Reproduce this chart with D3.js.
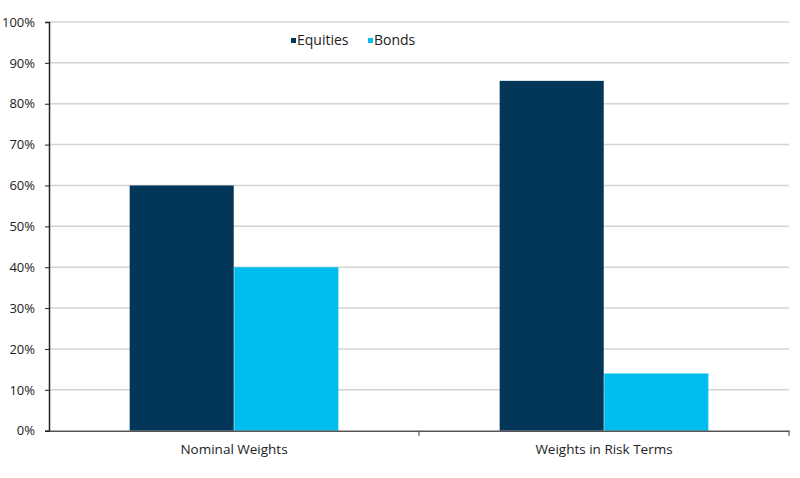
<!DOCTYPE html>
<html><head><meta charset="utf-8">
<script src="https://cdn.jsdelivr.net/npm/d3@7"></script>
<style>body{margin:0;background:#fff}svg{display:block}text{font-family:"Open Sans","Noto Sans",sans-serif;fill:#222}</style>
</head><body><svg id="c" width="800" height="478"></svg>
<script>
const categories = ["Nominal Weights", "Weights in Risk Terms"];
const seriesNames = ["Equities", "Bonds"];
const equities = [60, 85.6];
const bonds = [40, 14];
const yTicks = [0,10,20,30,40,50,60,70,80,90,100];
const colors = ["#03375a", "#00bdf0"];

const svg = d3.select("#c");
const m = {l:49, r:11, t:22, b:47};
const W = 800, H = 478;
const x = d3.scaleBand().domain(categories).range([m.l, W - m.r]).paddingInner(0).paddingOuter(0);
const bw = x.bandwidth();
const x1 = d3.scaleBand().domain(seriesNames).range([bw*0.218, bw*0.782]).paddingInner(0.005);
const y = d3.scaleLinear().domain([0,100]).range([H - m.b - 0.3, m.t]);

// gridlines
svg.append("g").selectAll("line").data(yTicks.filter(d=>d>0)).join("line")
  .attr("x1", m.l).attr("x2", W - m.r).attr("y1", d=>y(d)).attr("y2", d=>y(d))
  .attr("stroke", "#d4d4d4").attr("stroke-width", 1.5);

const data = categories.map((c,i)=>({c, vals:[{s:"Equities", v:equities[i]},{s:"Bonds", v:bonds[i]}]}));
svg.append("g").selectAll("g").data(data).join("g")
  .attr("transform", d=>`translate(${x(d.c)},0)`)
  .selectAll("rect").data(d=>d.vals).join("rect")
  .attr("x", d=>x1(d.s)).attr("width", x1.bandwidth())
  .attr("y", d=>y(d.v)).attr("height", d=>y(0)-y(d.v))
  .attr("fill", (d,i)=>colors[i]);

// y axis
const ya = svg.append("g").attr("transform", `translate(${m.l},0)`)
  .call(d3.axisLeft(y).tickValues(yTicks).tickFormat(d=>d+"%").tickSizeOuter(0).tickSize(4).tickPadding(10));
ya.select(".domain").attr("stroke", "#222").attr("stroke-width", 1.5);
ya.selectAll(".tick line").attr("stroke", "#222");
ya.selectAll("text").attr("font-size", 13).style("fill", "#222");

// x axis
const xa = svg.append("g").attr("transform", `translate(0,${y(0)})`)
  .call(d3.axisBottom(x).tickSize(0).tickPadding(14));
xa.select(".domain").attr("stroke", "#555").attr("stroke-width", 1.5);
xa.selectAll("text").attr("font-size", 13.5).style("fill", "#222");
const bounds = [m.l + bw, W - m.r];
xa.selectAll("line.sep").data(bounds).join("line").attr("class","sep")
  .attr("x1", d=>d).attr("x2", d=>d).attr("y1", 0).attr("y2", 5).attr("stroke", "#555").attr("stroke-width", 1.2);

// legend
const lg = svg.append("g").attr("transform", "translate(291,40)");
const lx = [0, 77];
seriesNames.forEach((s,i)=>{
  lg.append("rect").attr("x", lx[i]).attr("y", -2).attr("width", 5).attr("height", 5).attr("fill", colors[i]);
  lg.append("text").attr("x", lx[i]+6).attr("y", 0).attr("dy", "0.35em").attr("font-size", 14).text(s);
});
</script></body></html>
